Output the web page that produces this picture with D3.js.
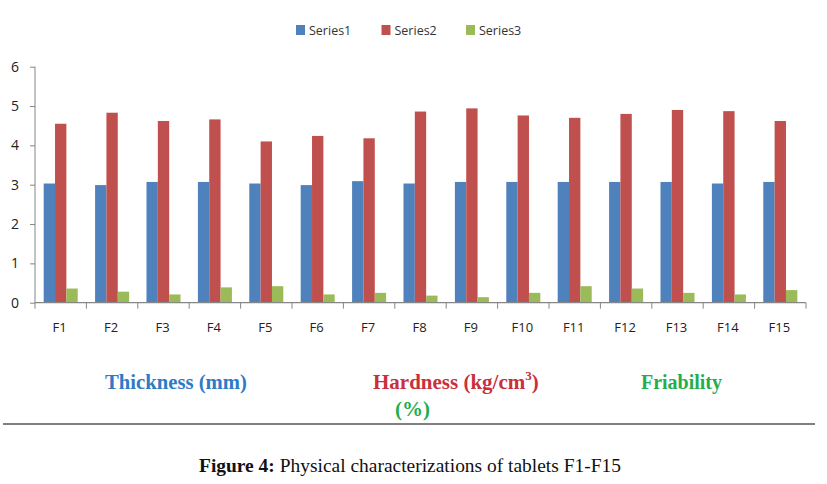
<!DOCTYPE html>
<html>
<head>
<meta charset="utf-8">
<script src="https://cdn.jsdelivr.net/npm/d3@7"></script>
<style>
  html, body { margin: 0; padding: 0; background: #fff; }
  svg { display: block; }
</style>
</head>
<body>
<svg id="chart" width="827" height="484"></svg>
<script>
const categories = ["F1","F2","F3","F4","F5","F6","F7","F8","F9","F10","F11","F12","F13","F14","F15"];
const seriesNames = ["Series1","Series2","Series3"];
const series1 = [3.03,2.99,3.07,3.07,3.03,2.99,3.09,3.03,3.07,3.07,3.07,3.07,3.07,3.03,3.07];
const series2 = [4.55,4.83,4.62,4.66,4.10,4.24,4.18,4.86,4.94,4.76,4.70,4.80,4.90,4.87,4.62];
const series3 = [0.36,0.28,0.21,0.39,0.42,0.21,0.25,0.18,0.14,0.25,0.42,0.36,0.25,0.21,0.32];
const yTicks = [0,1,2,3,4,5,6];
const colors = ["#4f81bd","#c0504d","#9bbb59"];

const allSeries = [series1, series2, series3];
const svg = d3.select("#chart");

const plotLeft = 35, plotRight = 806, plotTop = 66.7, plotBottom = 302.7;

const x = d3.scaleBand().domain(categories).range([plotLeft, plotRight]).paddingInner(0.338).paddingOuter(0.169);
const xs = d3.scaleBand().domain(seriesNames).range([0, x.bandwidth()]);
const y = d3.scaleLinear().domain([0, 6]).range([plotBottom, plotTop]);

// bars
const g = svg.append("g");
categories.forEach((c, i) => {
  seriesNames.forEach((s, j) => {
    const v = allSeries[j][i];
    g.append("rect")
      .attr("x", x(c) + xs(s))
      .attr("y", y(v))
      .attr("width", xs.bandwidth())
      .attr("height", y(0) - y(v))
      .attr("fill", colors[j]);
  });
});

const axisColor = "#868686";
// y axis
const yAxis = d3.axisLeft(y).tickValues(yTicks).tickSize(5).tickPadding(11).tickFormat(d3.format("d"));
const ya = svg.append("g").attr("transform", `translate(${plotLeft},0)`).call(yAxis);
ya.select(".domain").attr("stroke", axisColor).attr("d", `M0,${plotBottom}V${plotTop}`);
ya.selectAll(".tick line").attr("stroke", axisColor);
ya.selectAll(".tick text").attr("font-family", "'Open Sans', sans-serif").attr("font-size", 14).attr("fill", "#222");

// x axis
const xa = svg.append("g").attr("transform", `translate(0,${plotBottom})`);
xa.append("line").attr("x1", plotLeft).attr("x2", plotRight).attr("y1", 0).attr("y2", 0).attr("stroke", axisColor).attr("stroke-width", 1.2);
const boundaries = categories.map(c => x(c) - x.step() * x.paddingInner() / 2).concat([plotRight]);
xa.selectAll("line.b").data(boundaries).enter().append("line")
  .attr("class", "b")
  .attr("x1", d => d).attr("x2", d => d).attr("y1", 0).attr("y2", 6)
  .attr("stroke", axisColor);
xa.selectAll("text").data(categories).enter().append("text")
  .attr("x", d => x(d) + x.bandwidth() / 2 - 1)
  .attr("y", 29)
  .attr("text-anchor", "middle")
  .attr("font-family", "'Open Sans', sans-serif")
  .attr("font-size", 13)
  .attr("fill", "#222")
  .text(d => d);

// legend
const legendX = [296, 381.5, 466];
seriesNames.forEach((s, j) => {
  svg.append("rect").attr("x", legendX[j]).attr("y", 25).attr("width", 9).attr("height", 10).attr("fill", colors[j]);
  svg.append("text").attr("x", legendX[j] + 13).attr("y", 34.5)
    .attr("font-family", "'Open Sans', sans-serif").attr("font-size", 12.5).attr("fill", "#333")
    .text(s);
});

// bottom annotations
const serif = "'Liberation Serif', 'Times New Roman', serif";
svg.append("text").attr("x", 105).attr("y", 389)
  .attr("font-family", serif).attr("font-weight", "bold").attr("font-size", 21)
  .attr("fill", "#2e7bc4").attr("textLength", 142).attr("lengthAdjust", "spacingAndGlyphs")
  .text("Thickness (mm)");

const hard = svg.append("text").attr("x", 373).attr("y", 389)
  .attr("font-family", serif).attr("font-weight", "bold").attr("font-size", 21)
  .attr("fill", "#c8303c");
hard.append("tspan").text("Hardness (kg/cm");
hard.append("tspan").attr("dy", -9).attr("font-size", 13).text("3");
hard.append("tspan").attr("dy", 9).text(")");

svg.append("text").attr("x", 395).attr("y", 416)
  .attr("font-family", serif).attr("font-weight", "bold").attr("font-size", 21)
  .attr("fill", "#22ae4f").attr("textLength", 35).attr("lengthAdjust", "spacingAndGlyphs")
  .text("(%)");

svg.append("text").attr("x", 641).attr("y", 389)
  .attr("font-family", serif).attr("font-weight", "bold").attr("font-size", 21)
  .attr("fill", "#22ae4f").attr("textLength", 81).attr("lengthAdjust", "spacingAndGlyphs")
  .text("Friability");

// separator line
svg.append("line").attr("x1", 3).attr("x2", 815).attr("y1", 424).attr("y2", 424)
  .attr("stroke", "#808080").attr("stroke-width", 2);

// caption
const cap = svg.append("text").attr("x", 199).attr("y", 472)
  .attr("font-family", serif).attr("font-size", 18).attr("fill", "#111")
  .attr("textLength", 422).attr("lengthAdjust", "spacingAndGlyphs");
cap.append("tspan").attr("font-weight", "bold").text("Figure 4:");
cap.append("tspan").text(" Physical characterizations of tablets F1-F15");
</script>
</body>
</html>
